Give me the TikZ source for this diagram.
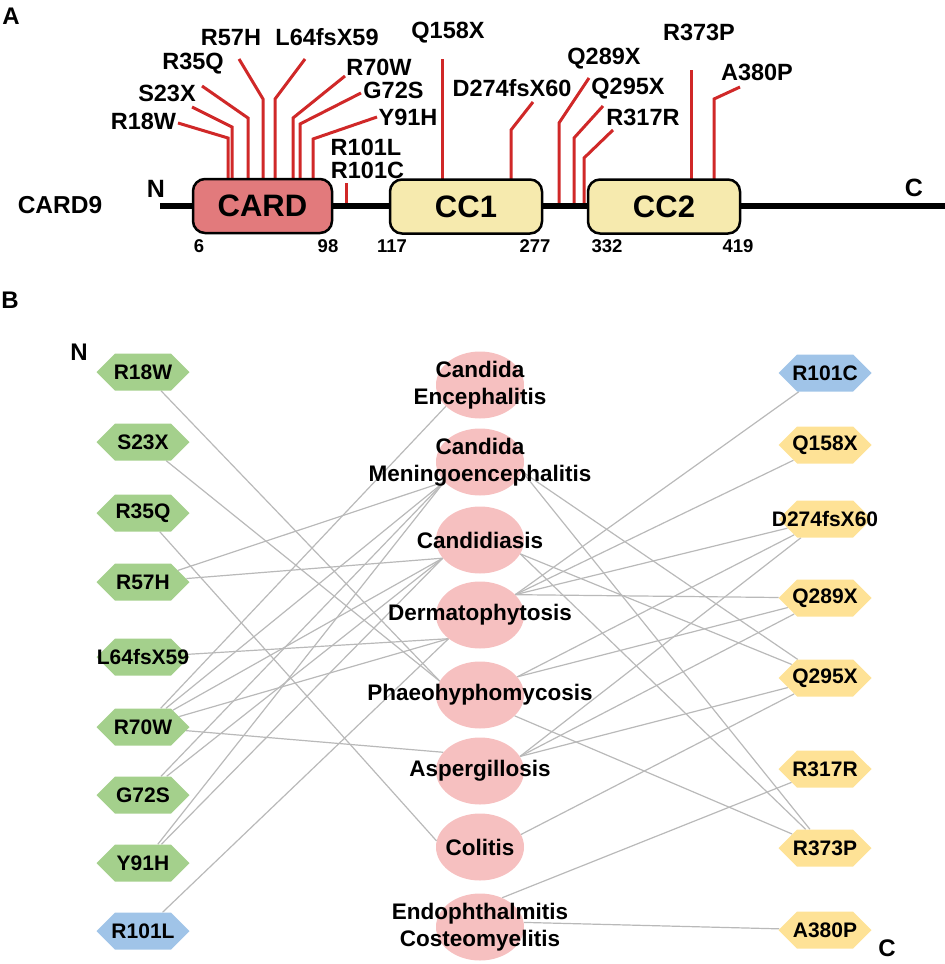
\documentclass[tikz,border=0pt]{standalone}
\usepackage{fontspec}
\setmainfont{Liberation Sans}
\usetikzlibrary{positioning,shapes.symbols,shapes.geometric,backgrounds}

\begin{document}
\begin{tikzpicture}[x=1pt,y=1pt,yscale=-1,xscale=1,
 lbl/.style={font=\bfseries\fontsize{21}{25}\selectfont},
 dislbl/.style={font=\bfseries\fontsize{22.5}{27}\selectfont},
 mutlbl/.style={font=\bfseries\fontsize{23.5}{27}\selectfont, inner sep=0pt},
 numlbl/.style={font=\bfseries\fontsize{18.5}{20}\selectfont, inner sep=0pt},
 dombox/.style={draw, line width=2.5pt, rounded corners=12pt, minimum height=54pt, inner sep=0pt, font=\bfseries\fontsize{31}{34}\selectfont},
 stick/.style={line width=3pt, color={rgb, 255:red, 208; green, 40; blue, 40}},
 hexa/.style={signal, signal to=east and west, signal pointer angle=90, minimum width=93pt, minimum height=37pt, inner sep=0pt, label={[lbl]center:#1}},
 hexg/.style={hexa=#1, fill={rgb, 255:red, 164; green, 208; blue, 140}},
 hexb/.style={hexa=#1, fill={rgb, 255:red, 160; green, 196; blue, 232}},
 hexy/.style={hexa=#1, fill={rgb, 255:red, 254; green, 226; blue, 150}},
 dis/.style={ellipse, minimum width=88pt, minimum height=67pt, inner sep=0pt, fill={rgb, 255:red, 246; green, 192; blue, 192}, label={[dislbl, align=center]center:#1}},
 link/.style={line width=1.2pt, color={rgb, 255:red, 185; green, 185; blue, 185}}
]
\useasboundingbox (0,0) rectangle (945,964);

% Panel letters
\node[font=\bfseries\fontsize{24}{26}\selectfont] (pa) at (11,16) {A};
\node[font=\bfseries\fontsize{24}{26}\selectfont] (pb) at (10,300) {B};

%%% Panel A

%Mutation sticks
\draw [stick] (228,180) -- (228,138) -- (178,123) ;
\draw [stick] (232,180) -- (232,127) -- (192,107) ;
\draw [stick] (248,180) -- (248,118) -- (202,86) ;
\draw [stick] (263,180) -- (263,99) -- (239,59) ;
\draw [stick] (275,180) -- (275,99) -- (305,59) ;
\draw [stick] (293,180) -- (293,118) -- (345,76) ;
\draw [stick] (300,180) -- (300,124) -- (361,93) ;
\draw [stick] (313,180) -- (313,139) -- (377,117) ;
\draw [stick] (346,205) -- (346,183) ;
\draw [stick] (442,182) -- (442,59) ;
\draw [stick] (511,182) -- (511,130) -- (533,102) ;
\draw [stick] (559,205) -- (559,123) -- (589,78) ;
\draw [stick] (574,205) -- (574,138) -- (603,106) ;
\draw [stick] (584,205) -- (584,158) -- (613,130) ;
\draw [stick] (691,182) -- (691,70) ;
\draw [stick] (714,182) -- (714,99) -- (740,87) ;

%Backbone
\draw [line width=6pt] (160,205.5) -- (945,205.5) ;

%Domains
\node[dombox, minimum width=139pt, fill={rgb, 255:red, 226; green, 122; blue, 124}] (card) at (262.5,206) {CARD};
\node[dombox, minimum width=152pt, fill={rgb, 255:red, 246; green, 234; blue, 174}] (cc1) at (466,206.5) {CC1};
\node[dombox, minimum width=152pt, fill={rgb, 255:red, 246; green, 234; blue, 174}] (cc2) at (664,206.5) {CC2};

% Text Node
\node[mutlbl, font=\bfseries\fontsize{24.5}{27}\selectfont] (card9) at (60,205) {CARD9};
\node[mutlbl, font=\bfseries\fontsize{25}{27}\selectfont] (nterm) at (156,189) {N};
\node[mutlbl, font=\bfseries\fontsize{25}{27}\selectfont] (cterm) at (914,188) {C};

% Text Node
\node[mutlbl] (ar18w) at (143.5,121) {R18W};
\node[mutlbl] (as23x) at (167,93) {S23X};
\node[mutlbl] (ar35q) at (193,64) {R35Q};
\node[mutlbl] (ar57h) at (231,38) {R57H};
\node[mutlbl] (al64) at (327,37) {L64fsX59};
\node[mutlbl] (ar70w) at (379,67) {R70W};
\node[mutlbl] (ag72s) at (393.5,90) {G72S};
\node[mutlbl] (ay91h) at (408,117) {Y91H};
\node[mutlbl] (ar101l) at (366,147) {R101L};
\node[mutlbl] (ar101c) at (367.5,170) {R101C};
\node[mutlbl] (aq158x) at (448,33) {Q158X};
\node[mutlbl] (ad274) at (512,88) {D274fsX60};
\node[mutlbl] (aq289x) at (604,59) {Q289X};
\node[mutlbl] (aq295x) at (628,89) {Q295X};
\node[mutlbl] (ar317r) at (643,117) {R317R};
\node[mutlbl] (ar373p) at (699,32) {R373P};
\node[mutlbl] (aa380p) at (757,72) {A380P};

% Residue numbers
\node[numlbl] (n6) at (199,246) {6};
\node[numlbl] (n98) at (328,246) {98};
\node[numlbl] (n117) at (392,246) {117};
\node[numlbl] (n277) at (535,246) {277};
\node[numlbl] (n332) at (607,246) {332};
\node[numlbl] (n419) at (738,246) {419};

%%% Panel B

\node[mutlbl, font=\bfseries\fontsize{24}{26}\selectfont] (bn) at (79,352) {N};
\node[mutlbl, font=\bfseries\fontsize{24}{26}\selectfont] (bc) at (887,948) {C};

% N-terminal variants
\node[hexg=R18W] (r18w) at (143,372) {};
\node[hexg=S23X] (s23x) at (143,442) {};
\node[hexg=R35Q] (r35q) at (143,513) {};
\node[hexg=R57H] (r57h) at (143,582) {};
\node[hexg=L64fsX59] (l64) at (143,657) {};
\node[hexg=R70W] (r70w) at (143,727) {};
\node[hexg=G72S] (g72s) at (143,795) {};
\node[hexg=Y91H] (y91h) at (143,863) {};
\node[hexb=R101L] (r101l) at (143,931) {};

% Diseases
\node[dis={Candida\\Encephalitis}] (candenc) at (480,385) {};
\node[dis={Candida\\Meningoencephalitis}] (candmen) at (480,462) {};
\node[dis=Candidiasis] (candida) at (480,540) {};
\node[dis=Dermatophytosis] (derm) at (480,615) {};
\node[dis=Phaeohyphomycosis] (phaeo) at (480,695) {};
\node[dis=Aspergillosis] (asp) at (480,771) {};
\node[dis=Colitis] (colitis) at (480,847) {};
\node[dis={Endophthalmitis\\Costeomyelitis}] (endo) at (480,927) {};

% C-terminal variants
\node[hexb=R101C] (r101c) at (825,373) {};
\node[hexy=Q158X] (q158x) at (825,445) {};
\node[hexy=D274fsX60] (d274) at (825,519) {};
\node[hexy=Q289X] (q289x) at (825,598) {};
\node[hexy=Q295X] (q295x) at (825,678) {};
\node[hexy=R317R] (r317r) at (825,769) {};
\node[hexy=R373P] (r373p) at (825,848) {};
\node[hexy=A380P] (a380p) at (825,930) {};

\begin{scope}[on background layer]
% left links
\draw [link] (r18w) -- (phaeo.161) ;
\draw [link] (s23x) -- (phaeo.161) ;
\draw [link] (r35q) -- (colitis.172) ;
\draw [link] (r57h) -- (candmen.209) ;
\draw [link] (r57h) -- (candida.206) ;
\draw [link] (l64) -- (derm.217) ;
\draw [link] (r70w) -- (candenc.212) ;
\draw [link] (r70w) -- (candmen.209) ;
\draw [link] (r70w) -- (candida.206) ;
\draw [link] (r70w) -- (derm.217) ;
\draw [link] (r70w) -- (asp.153) ;
\draw [link] (g72s) -- (candmen.209) ;
\draw [link] (g72s) -- (candida.206) ;
\draw [link] (y91h) -- (candmen.209) ;
\draw [link] (y91h) -- (candida.206) ;
\draw [link] (r101l) -- (derm.217) ;
% right links
\draw [link] (r101c) -- (derm.30) ;
\draw [link] (q158x) -- (derm.30) ;
\draw [link] (d274) -- (derm.30) ;
\draw [link] (q289x) -- (derm.30) ;
\draw [link] (d274) -- (phaeo.26) ;
\draw [link] (q289x) -- (phaeo.26) ;
\draw [link] (r373p) -- (phaeo.329) ;
\draw [link] (d274) -- (asp.20) ;
\draw [link] (q289x) -- (asp.20) ;
\draw [link] (q295x) -- (asp.20) ;
\draw [link] (q295x) -- (candmen.347) ;
\draw [link] (q295x) -- (candida.341) ;
\draw [link] (q295x) -- (colitis.17) ;
\draw [link] (r373p) -- (candmen.347) ;
\draw [link] (r373p) -- (candida.341) ;
\draw [link] (r317r) -- (endo.53) ;
\draw [link] (a380p) -- (endo.6) ;
\end{scope}

\end{tikzpicture}
\end{document}
